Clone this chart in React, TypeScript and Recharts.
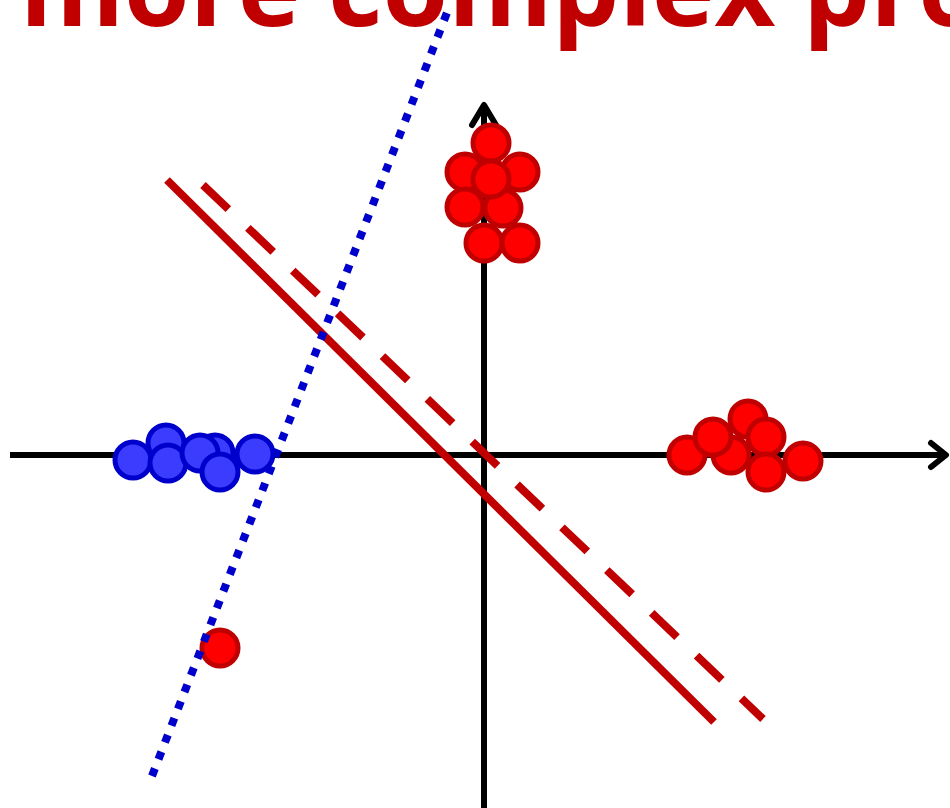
import { ScatterChart, Scatter, XAxis, YAxis } from "recharts";

// points (origin where the two axes cross)
const bluePoints = [
  { x: -3.51, y: -0.05 },
  { x: -3.18, y: 0.12 },
  { x: -3.16, y: -0.08 },
  { x: -2.69, y: 0.02 },
  { x: -2.84, y: 0.02 },
  { x: -2.64, y: -0.17 },
  { x: -2.29, y: 0.01 },
];

const redRight = [
  { x: 2.03, y: 0.0 },
  { x: 2.47, y: 0.0 },
  { x: 2.29, y: 0.18 },
  { x: 2.64, y: 0.36 },
  { x: 2.82, y: 0.18 },
  { x: 2.82, y: -0.17 },
  { x: 3.19, y: -0.06 },
];

const redTop = [
  { x: -0.19, y: 2.83 },
  { x: 0.36, y: 2.83 },
  { x: 0.07, y: 3.12 },
  { x: -0.19, y: 2.48 },
  { x: 0.19, y: 2.47 },
  { x: 0.07, y: 2.76 },
  { x: 0.0, y: 2.12 },
  { x: 0.36, y: 2.12 },
];

const redOutlier = [{ x: -2.64, y: -1.93 }];

// separating lines
const solidLine = [
  { x: -3.17, y: 2.75 },
  { x: 2.3, y: -2.67 },
];
const dashedLine = [
  { x: -2.81, y: 2.7 },
  { x: 2.79, y: -2.64 },
];
const dottedLine = [
  { x: -3.32, y: -3.21 },
  { x: -0.36, y: 4.45 },
];

// axes
const xAxisLine = [
  { x: -4.74, y: 0 },
  { x: 4.62, y: 0 },
];
const yAxisLine = [
  { x: 0, y: -3.6 },
  { x: 0, y: 3.5 },
];
const xArrowTip = [{ x: 4.62, y: 0 }];
const yArrowTip = [{ x: 0, y: 3.5 }];

const xDomain = [-4.84, 4.66];
const yDomain = [-3.53, 4.55];

const TITLE = "more complex problem";

const Empty = () => <g />;

const BlueDot = (props: any) => (
  <circle cx={props.cx} cy={props.cy} r={18} fill="#3c3cff" stroke="#0000cc" strokeWidth={5} />
);

const RedDot = (props: any) => (
  <circle cx={props.cx} cy={props.cy} r={18} fill="#ff0000" stroke="#c00000" strokeWidth={5} />
);

const RightArrow = (props: any) => {
  const { cx, cy } = props;
  return (
    <polyline
      points={`${cx - 15},${cy - 12} ${cx},${cy} ${cx - 15},${cy + 12}`}
      fill="none"
      stroke="#000"
      strokeWidth={6}
      strokeLinecap="round"
      strokeLinejoin="round"
    />
  );
};

const UpArrow = (props: any) => {
  const { cx, cy } = props;
  return (
    <polyline
      points={`${cx - 12},${cy + 20} ${cx},${cy} ${cx + 12},${cy + 20}`}
      fill="none"
      stroke="#000"
      strokeWidth={6}
      strokeLinecap="round"
      strokeLinejoin="round"
    />
  );
};

export default function App() {
  return (
    <div
      style={{
        position: "absolute",
        left: 0,
        top: 0,
        width: 950,
        height: 808,
        overflow: "hidden",
        background: "#fff",
      }}
    >
      <svg width={950} height={808} style={{ position: "absolute", left: 0, top: 0 }}>
        <text
          x={20}
          y={26}
          fill="#c00000"
          fontFamily="'Open Sans', sans-serif"
          fontWeight={700}
          fontSize={106}
        >
          {TITLE}
        </text>
      </svg>
      <div style={{ position: "absolute", left: 0, top: 0 }}>
        <ScatterChart width={950} height={808} margin={{ top: 0, right: 0, bottom: 0, left: 0 }}>
          <XAxis type="number" dataKey="x" domain={xDomain} allowDataOverflow hide />
          <YAxis type="number" dataKey="y" domain={yDomain} allowDataOverflow hide />

          <Scatter data={xAxisLine} fill="#000" line={{ stroke: "#000", strokeWidth: 6 }} shape={Empty} isAnimationActive={false} />
          <Scatter data={yAxisLine} fill="#000" line={{ stroke: "#000", strokeWidth: 6 }} shape={Empty} isAnimationActive={false} />
          <Scatter data={xArrowTip} shape={RightArrow} isAnimationActive={false} />
          <Scatter data={yArrowTip} shape={UpArrow} isAnimationActive={false} />

          <Scatter data={solidLine} fill="#c00000" line={{ stroke: "#c00000", strokeWidth: 8 }} shape={Empty} isAnimationActive={false} />
          <Scatter
            data={dashedLine}
            fill="#c00000"
            line={{ stroke: "#c00000", strokeWidth: 8, strokeDasharray: "35 27" }}
            shape={Empty}
            isAnimationActive={false}
          />

          <Scatter data={bluePoints} shape={BlueDot} isAnimationActive={false} />
          <Scatter data={redRight} shape={RedDot} isAnimationActive={false} />
          <Scatter data={redTop} shape={RedDot} isAnimationActive={false} />
          <Scatter data={redOutlier} shape={RedDot} isAnimationActive={false} />

          <Scatter
            data={dottedLine}
            fill="#0000cc"
            line={{ stroke: "#0000cc", strokeWidth: 8, strokeDasharray: "8 10" }}
            shape={Empty}
            isAnimationActive={false}
          />
        </ScatterChart>
      </div>
    </div>
  );
}
